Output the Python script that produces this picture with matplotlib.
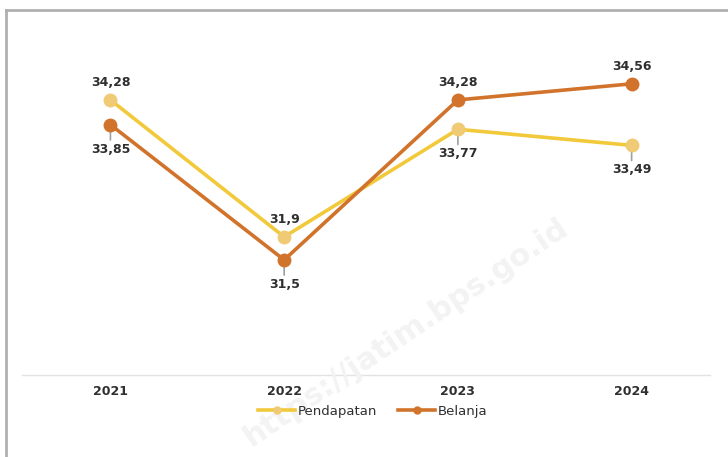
import matplotlib.pyplot as plt
from matplotlib.lines import Line2D

years = ["2021", "2022", "2023", "2024"]
pendapatan = [34.28, 31.9, 33.77, 33.49]
belanja = [33.85, 31.5, 34.28, 34.56]
# label placement: +1 above point, -1 below point (with leader line)
pendapatan_pos = [1, 1, -1, -1]
belanja_pos = [-1, -1, 1, 1]

c_pend_line = "#F1C93B"
c_pend_mark = "#F0CA74"
c_bel = "#D1732B"
txt_color = "#2f2f2f"

plt.rcParams["font.family"] = ["DejaVu Sans"]

fig = plt.figure(figsize=(7.28, 4.57), dpi=100)
ax = fig.add_axes([0.030, 0.1794, 0.945, 0.777])

x = list(range(len(years)))
ax.plot(x, pendapatan, color=c_pend_line, lw=2.6, zorder=3)
ax.plot(x, pendapatan, ls="none", marker="o", ms=9, color=c_pend_mark, zorder=4)
ax.plot(x, belanja, color=c_bel, lw=2.6, zorder=3)
ax.plot(x, belanja, ls="none", marker="o", ms=9, color=c_bel, zorder=4)

ax.set_xlim(-0.51, 3.45)
ax.set_ylim(29.5, 35.67)

fs = 9
fw = "bold"


def add_labels(vals, pos):
    for i, (v, p) in enumerate(zip(vals, pos)):
        label = f"{v:g}".replace(".", ",")
        if p > 0:
            ax.annotate(label, (i, v), xytext=(0, 8), textcoords="offset points",
                        ha="center", va="bottom", fontsize=fs, color=txt_color,
                        fontweight=fw)
        else:
            ax.annotate("", (i, v), xytext=(0, -11), textcoords="offset points",
                        arrowprops=dict(arrowstyle="-", color="#a0a0a0", lw=1.2,
                                        shrinkA=0, shrinkB=0), zorder=2)
            ax.annotate(label, (i, v), xytext=(0, -13), textcoords="offset points",
                        ha="center", va="top", fontsize=fs, color=txt_color,
                        fontweight=fw)


add_labels(pendapatan, pendapatan_pos)
add_labels(belanja, belanja_pos)

for s in ["top", "right", "left"]:
    ax.spines[s].set_visible(False)
ax.spines["bottom"].set_color("#e2e2e2")
ax.spines["bottom"].set_linewidth(1)
ax.set_yticks([])
ax.set_xticks(x)
ax.set_xticklabels(years, fontsize=fs, color=txt_color, fontweight=fw)
ax.tick_params(axis="x", length=0, pad=7)

handles = [
    Line2D([], [], color=c_pend_line, lw=2.6, marker="o", ms=5,
           markerfacecolor=c_pend_mark, markeredgecolor=c_pend_mark),
    Line2D([], [], color=c_bel, lw=2.6, marker="o", ms=5),
]
fig.legend(handles, ["Pendapatan", "Belanja"], loc="center",
           bbox_to_anchor=(0.512, 0.1), ncol=2, frameon=False,
           prop={"size": 9.5}, handlelength=2.8, handletextpad=0.2,
           columnspacing=1.6, labelcolor=txt_color)

# faint watermark
fig.text(0.558, 0.272, "https://jatim.bps.go.id", rotation=34, fontsize=22,
         fontweight="bold", color="#f3f3f3", ha="center", va="center", zorder=0)

# screenshot frame
fig.add_artist(Line2D([6 / 728, 1], [1 - 10 / 457, 1 - 10 / 457],
                      transform=fig.transFigure, color="#b0b0b0", lw=2))
fig.add_artist(Line2D([6 / 728, 6 / 728], [0, 1 - 10 / 457],
                      transform=fig.transFigure, color="#b0b0b0", lw=2))

fig.savefig("out.png", dpi=100)
